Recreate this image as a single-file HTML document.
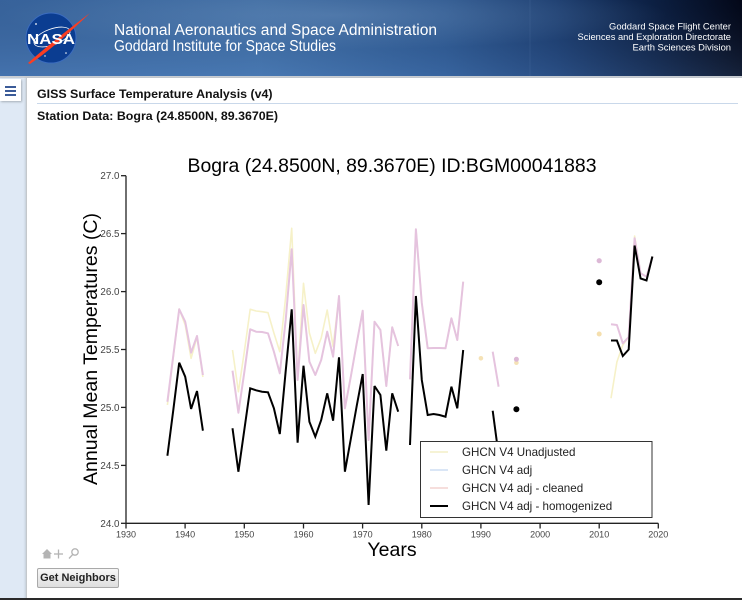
<!DOCTYPE html>
<html>
<head>
<meta charset="utf-8">
<style>
  html,body{margin:0;padding:0;}
  body{width:742px;height:600px;overflow:hidden;position:relative;background:#fff;font-family:"Liberation Sans",Arial,sans-serif;}
  .abs{position:absolute;}
</style>
</head>
<body>

<!-- Banner -->
<svg class="abs" style="left:0;top:0" width="742" height="78" viewBox="0 0 742 78">
  <defs>
    <linearGradient id="bg" x1="0" y1="0" x2="1" y2="0">
      <stop offset="0" stop-color="#3c6ba8"/>
      <stop offset="0.35" stop-color="#4172ad"/>
      <stop offset="0.6" stop-color="#2d5a96"/>
      <stop offset="0.75" stop-color="#1c3f75"/>
      <stop offset="0.88" stop-color="#0d2248"/>
      <stop offset="1" stop-color="#03081a"/>
    </linearGradient>
    <radialGradient id="hl" cx="0.45" cy="0.2" r="0.45">
      <stop offset="0" stop-color="#7aa3d3" stop-opacity="0.45"/>
      <stop offset="1" stop-color="#7aa3d3" stop-opacity="0"/>
    </radialGradient>
    <linearGradient id="vb" x1="0" y1="0" x2="0" y2="1">
      <stop offset="0" stop-color="#000" stop-opacity="0.08"/>
      <stop offset="1" stop-color="#6a94c8" stop-opacity="0.18"/>
    </linearGradient>
  </defs>
  <rect x="0" y="0" width="742" height="76" fill="url(#bg)"/>
  <rect x="0" y="0" width="742" height="76" fill="url(#hl)"/>
  <rect x="0" y="0" width="742" height="76" fill="url(#vb)"/>
  <line x1="530" y1="0" x2="530" y2="76" stroke="#6d8fbf" stroke-opacity="0.15" stroke-width="1"/>
  <rect x="0" y="76" width="742" height="2" fill="#c9ced4"/>
  <!-- NASA meatball -->
  <circle cx="51" cy="38" r="25" fill="#0b3d91"/>
  <circle cx="51" cy="38" r="25" fill="none" stroke="#3b6cc0" stroke-width="1"/>
  <ellipse cx="52" cy="37" rx="19" ry="8" fill="none" stroke="#ffffff" stroke-width="0.8" transform="rotate(-20 52 37)"/>
  <path d="M28 63 C 45 48, 62 34, 90 13 C 66 36, 50 50, 30 64 Z" fill="#fc3d21"/>
  <text x="51" y="44" font-family="Liberation Sans, Arial, sans-serif" font-weight="bold" font-size="15" fill="#fff" text-anchor="middle" textLength="48" lengthAdjust="spacingAndGlyphs">NASA</text>
  <circle cx="36" cy="24" r="0.9" fill="#fff"/>
  <circle cx="66" cy="53" r="0.8" fill="#fff"/>
  <circle cx="45" cy="56" r="0.7" fill="#fff"/>
  <!-- Titles -->
  <text x="114" y="35" font-family="Liberation Sans, Arial, sans-serif" font-size="15.5" fill="#fff" textLength="323" lengthAdjust="spacingAndGlyphs">National Aeronautics and Space Administration</text>
  <text x="114" y="51" font-family="Liberation Sans, Arial, sans-serif" font-size="15.5" fill="#fff" textLength="222" lengthAdjust="spacingAndGlyphs">Goddard Institute for Space Studies</text>
  <g font-family="Liberation Sans, Arial, sans-serif" font-size="9.4" fill="#fff" text-anchor="end">
    <text x="731" y="29.5">Goddard Space Flight Center</text>
    <text x="731" y="40" textLength="153.5" lengthAdjust="spacingAndGlyphs">Sciences and Exploration Directorate</text>
    <text x="731" y="50.5">Earth Sciences Division</text>
  </g>
</svg>

<!-- Sidebar -->
<div class="abs" style="left:0;top:78px;width:27px;height:522px;background:#dfe9f5;"></div>
<div class="abs" style="left:0;top:79px;width:21px;height:22px;background:#fff;box-shadow:1px 1px 2px rgba(0,0,0,0.25);"></div>
<div class="abs" style="left:5px;top:86px;width:11px;height:2px;background:#3b5b98;"></div>
<div class="abs" style="left:5px;top:90px;width:11px;height:2px;background:#3b5b98;"></div>
<div class="abs" style="left:5px;top:94px;width:11px;height:2px;background:#3b5b98;"></div>

<!-- Panel -->
<div class="abs" style="left:26px;top:78px;width:716px;height:522px;background:#fff;border-left:1px solid #c4c8cc;box-shadow:-1px 0 2px rgba(0,0,0,0.12);"></div>

<div class="abs" style="left:37px;top:87px;font-weight:bold;font-size:12.4px;color:#111;white-space:nowrap;">GISS Surface Temperature Analysis (v4)</div>
<div class="abs" style="left:37px;top:103px;width:701px;height:1px;background:#c9d8ea;"></div>
<div class="abs" style="left:37px;top:109px;font-weight:bold;font-size:12.4px;color:#111;white-space:nowrap;">Station Data: Bogra (24.8500N, 89.3670E)</div>

<!-- Chart -->
<svg class="abs" style="left:0;top:0" width="742" height="600" viewBox="0 0 742 600">
  <g font-family="Liberation Sans, Arial, sans-serif">
    <text x="392" y="172" font-size="19.5" fill="#000" text-anchor="middle" textLength="409" lengthAdjust="spacingAndGlyphs">Bogra (24.8500N, 89.3670E) ID:BGM00041883</text>
    <text transform="translate(97,349) rotate(-90)" font-size="19.5" fill="#000" text-anchor="middle" textLength="272" lengthAdjust="spacingAndGlyphs">Annual Mean Temperatures (C)</text>
    <text x="392" y="556" font-size="19.5" fill="#000" text-anchor="middle">Years</text>
  </g>

  <!-- series: unadjusted (yellow) -->
  <g fill="none" stroke="#f6f1c8" stroke-width="1.6" stroke-linejoin="round">
    <polyline points="167.4,405 173.3,357 179.2,309 185.2,325 191.1,358.3 197,337 202.9,377"/>
    <polyline points="232.5,350 238.4,391.7 244.3,351.7 250.2,309.3 256.1,311 262.1,311.7 268,312.7 273.9,333 279.8,351.7 285.7,296.7 291.7,228.3 297.6,380 303.5,283.3 309.4,333 315.3,353.3 321.2,338 327.2,310 333.1,346.7 339,296 344.9,408.3 350.8,376.7 356.7,343.3 362.7,310.7 368.6,440 374.5,321.7 380.4,330 386.3,386 392.2,327.3 398.2,346"/>
    <polyline points="410,379.3 415.9,229.3 421.8,303 427.7,348.3 433.6,348 439.5,348 445.5,348.3 451.4,318.3 457.3,340 463.2,281.7"/>
    <polyline points="611,398.3 616.9,362 622.8,345 628.7,337 634.6,236 640.6,273 646.5,276.7 652.4,256.7"/>
  </g>
  <!-- series: adj / cleaned (mauve) -->
  <g fill="none" stroke="#e5c3de" stroke-width="2" stroke-linejoin="round">
    <polyline points="167.4,401.7 173.3,355.5 179.2,309.3 185.2,321.7 191.1,352.7 197,336 202.9,375"/>
    <polyline points="232.5,370.7 238.4,412.7 244.3,372.3 250.2,329.3 256.1,331.7 262.1,332 268,333.3 273.9,351.7 279.8,373.3 285.7,320 291.7,249.3 297.6,380 303.5,305 309.4,361.7 315.3,375 321.2,360 327.2,331.7 333.1,356.7 339,296 344.9,408.3 350.8,376.7 356.7,343.3 362.7,310.7 368.6,440 374.5,321.7 380.4,330 386.3,386 392.2,327.3 398.2,346"/>
    <polyline points="410,379.3 415.9,229.3 421.8,303 427.7,348.3 433.6,348 439.5,348 445.5,348.3 451.4,318.3 457.3,340 463.2,281.7"/>
    <polyline points="492.7,351.7 498.6,386.7"/>
    <polyline points="611,324.3 616.9,325 622.8,343.3 628.7,337 634.6,238.3 640.6,273.3 646.5,276.7 652.4,256.7"/>
  </g>
  <circle cx="480.9" cy="358.3" r="2.3" fill="#f5e2b6"/>
  <circle cx="516.4" cy="362.7" r="2.3" fill="#f5e2b6"/>
  <circle cx="516.4" cy="359.3" r="2.5" fill="#dcb8d6"/>
  <circle cx="599.2" cy="334" r="2.5" fill="#f5dfae"/>
  <circle cx="599.2" cy="260.7" r="2.6" fill="#dcb8d6"/>

  <!-- series: homogenized (black) -->
  <g fill="none" stroke="#000" stroke-width="2" stroke-linejoin="miter" stroke-miterlimit="3">
    <polyline points="167.4,455.7 173.3,410 179.2,362.7 185.2,376.7 191.1,409 197,391 202.9,430.7"/>
    <polyline points="232.5,428.3 238.4,471.7 244.3,430 250.2,388.3 256.1,390.3 262.1,391.7 268,392.3 273.9,408.3 279.8,434 285.7,371 291.7,309.3 297.6,442.7 303.5,365.7 309.4,421.7 315.3,436.7 321.2,420 327.2,393.3 333.1,420.7 339,357.3 344.9,471.7 350.8,439 356.7,406 362.7,374 368.6,505 374.5,386 380.4,395 386.3,450.7 392.2,393.3 398.2,411.7"/>
    <polyline points="410,445 415.9,296 421.8,380 427.7,415 433.6,414 439.5,415 445.5,416.7 451.4,386.7 457.3,408.3 463.2,350"/>
    <polyline points="492.7,410.7 498.6,455"/>
    <polyline points="611,340.5 616.9,340.5 622.8,356 628.7,349.5 634.6,245.5 640.6,278.5 646.5,280.5 652.4,256.5"/>
  </g>
  <circle cx="516.4" cy="409.3" r="3" fill="#000"/>
  <circle cx="599.2" cy="282.3" r="3" fill="#000"/>

  <!-- axes -->
  <g stroke="#222" stroke-width="1.3" fill="none">
    <line x1="126" y1="175.7" x2="126" y2="523.3"/>
    <line x1="126" y1="523.3" x2="658.3" y2="523.3"/>
    <line x1="121" y1="175.7" x2="126" y2="175.7"/>
    <line x1="121" y1="233.6" x2="126" y2="233.6"/>
    <line x1="121" y1="291.6" x2="126" y2="291.6"/>
    <line x1="121" y1="349.5" x2="126" y2="349.5"/>
    <line x1="121" y1="407.4" x2="126" y2="407.4"/>
    <line x1="121" y1="465.4" x2="126" y2="465.4"/>
    <line x1="121" y1="523.3" x2="126" y2="523.3"/>
    <line x1="126" y1="523.3" x2="126" y2="528.5"/>
    <line x1="185.1" y1="523.3" x2="185.1" y2="528.5"/>
    <line x1="244.3" y1="523.3" x2="244.3" y2="528.5"/>
    <line x1="303.5" y1="523.3" x2="303.5" y2="528.5"/>
    <line x1="362.6" y1="523.3" x2="362.6" y2="528.5"/>
    <line x1="421.8" y1="523.3" x2="421.8" y2="528.5"/>
    <line x1="480.9" y1="523.3" x2="480.9" y2="528.5"/>
    <line x1="540.1" y1="523.3" x2="540.1" y2="528.5"/>
    <line x1="599.2" y1="523.3" x2="599.2" y2="528.5"/>
    <line x1="658.3" y1="523.3" x2="658.3" y2="528.5"/>
  </g>
  <g font-family="Liberation Sans, Arial, sans-serif" font-size="9.8" fill="#444" text-anchor="end">
    <text x="119.5" y="179.2">27.0</text>
    <text x="119.5" y="237.1">26.5</text>
    <text x="119.5" y="295.1">26.0</text>
    <text x="119.5" y="353">25.5</text>
    <text x="119.5" y="410.9">25.0</text>
    <text x="119.5" y="468.9">24.5</text>
    <text x="119.5" y="526.8">24.0</text>
  </g>
  <g font-family="Liberation Sans, Arial, sans-serif" font-size="9" fill="#444" text-anchor="middle">
    <text x="126" y="537.5">1930</text>
    <text x="185.1" y="537.5">1940</text>
    <text x="244.3" y="537.5">1950</text>
    <text x="303.5" y="537.5">1960</text>
    <text x="362.6" y="537.5">1970</text>
    <text x="421.8" y="537.5">1980</text>
    <text x="480.9" y="537.5">1990</text>
    <text x="540.1" y="537.5">2000</text>
    <text x="599.2" y="537.5">2010</text>
    <text x="658.3" y="537.5">2020</text>
  </g>

  <!-- legend -->
  <rect x="420.5" y="441.5" width="231.5" height="76" fill="#fff" stroke="#333" stroke-width="1"/>
  <line x1="430" y1="452" x2="448" y2="452" stroke="#f0ecbc" stroke-width="1.2"/>
  <line x1="430" y1="470" x2="448" y2="470" stroke="#c4d6f0" stroke-width="1.2"/>
  <line x1="430" y1="488" x2="448" y2="488" stroke="#f0cbc6" stroke-width="1.2"/>
  <line x1="430" y1="506" x2="448" y2="506" stroke="#000" stroke-width="2"/>
  <g font-family="Liberation Sans, Arial, sans-serif" font-size="11.6" fill="#222">
    <text x="462" y="456">GHCN V4 Unadjusted</text>
    <text x="462" y="474">GHCN V4 adj</text>
    <text x="462" y="492">GHCN V4 adj - cleaned</text>
    <text x="462" y="510">GHCN V4 adj - homogenized</text>
  </g>

  <!-- toolbar icons -->
  <g fill="#b4b4b4" stroke="none">
    <path d="M42 554 L47 549 L52 554 L50.5 554 L50.5 558.5 L43.5 558.5 L43.5 554 Z"/>
  </g>
  <g stroke="#b4b4b4" stroke-width="1.3" fill="none">
    <line x1="54" y1="554" x2="63" y2="554"/>
    <line x1="58.5" y1="549.5" x2="58.5" y2="558.5"/>
    <circle cx="75" cy="552" r="3.2"/>
    <line x1="72.7" y1="554.5" x2="69" y2="558.5"/>
  </g>
</svg>

<!-- Button -->
<div class="abs" style="left:37px;top:568px;width:82px;height:20px;border:1px solid #a9a9a9;border-radius:2px;background:linear-gradient(#f7f7f7,#dedede);box-sizing:border-box;font-weight:bold;font-size:11px;color:#222;text-align:center;line-height:18px;white-space:nowrap;">Get Neighbors</div>

<!-- bottom dark bar -->
<div class="abs" style="left:0;top:598px;width:742px;height:2px;background:#2a2a2a;"></div>

</body>
</html>
